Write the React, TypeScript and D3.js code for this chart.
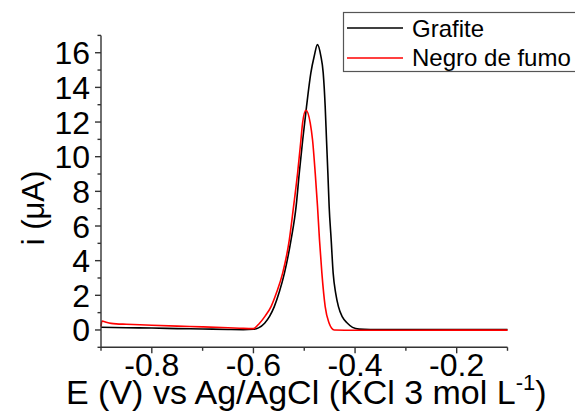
import React from "react";
import * as d3 from "d3";

// Differential pulse voltammograms: potential (V) and current (µA)
const grafiteE = [
  -0.9, -0.85, -0.8, -0.75, -0.7, -0.65, -0.62, -0.6, -0.59, -0.578, -0.568, -0.559, -0.549,
  -0.539, -0.526, -0.516, -0.5098, -0.503, -0.4955, -0.487, -0.4804, -0.474, -0.4673, -0.4627,
  -0.4588, -0.4562, -0.4535, -0.451, -0.447, -0.4431, -0.438, -0.4327, -0.425, -0.415, -0.405,
  -0.392, -0.37, -0.3, -0.2, -0.1,
];
const grafiteI = [
  0.16, 0.13, 0.11, 0.08, 0.06, 0.03, 0.02, 0.04, 0.12, 0.39, 0.8, 1.35, 2.2,
  3.28, 5.2, 7.13, 9.05, 10.98, 12.9, 14.84, 15.8, 16.47, 15.8, 14.84,
  12.9, 10.98, 9.05, 7.13, 5.2, 3.28, 2.1, 1.35, 0.75, 0.39, 0.15,
  0.05, 0.03, 0.02, 0.02, 0.02,
];

const negroE = [
  -0.9, -0.898, -0.89, -0.88, -0.87, -0.85, -0.8, -0.75, -0.7, -0.65, -0.62, -0.6, -0.588,
  -0.577, -0.5653, -0.554, -0.5425, -0.5294, -0.521, -0.5131, -0.5065, -0.5033, -0.4967,
  -0.4882, -0.4837, -0.4784, -0.4739, -0.47, -0.4653, -0.4588, -0.451, -0.446, -0.441,
  -0.4, -0.3, -0.2, -0.1,
];
const negroI = [
  0.2, 0.52, 0.45, 0.38, 0.35, 0.33, 0.27, 0.22, 0.18, 0.13, 0.09, 0.08, 0.39,
  0.8, 1.35, 2.2, 3.28, 5.2, 7.13, 9.05, 10.98, 11.94, 12.68,
  11.94, 10.98, 9.05, 7.13, 5.2, 3.28, 1.35, 0.39, 0.1, 0.0,
  -0.02, -0.02, -0.01, -0.01,
];

const xMajor = [-0.8, -0.6, -0.4, -0.2];
const xMinor = [-0.9, -0.7, -0.5, -0.3, -0.1];
const yMajor = [0, 2, 4, 6, 8, 10, 12, 14, 16];
const yMinor = [-1, 1, 3, 5, 7, 9, 11, 13, 15, 17];

const seriesNames = ["Grafite", "Negro de fumo"];
const seriesColors = ["#000000", "#ff0000"];

const W = 575;
const H = 417;
const FONT = "'Liberation Sans', Arial, Helvetica, sans-serif";
const AXIS = "#333333";

export default function App() {
  const x = d3.scaleLinear().domain([-0.9, -0.1]).range([101, 507.5]);
  const y = d3.scaleLinear().domain([-1, 17]).range([347.3, 35.4]);

  const line = d3
    .line<[number, number]>()
    .x((d) => x(d[0]))
    .y((d) => y(d[1]))
    .curve(d3.curveMonotoneX);

  const series = [
    grafiteE.map((e, i) => [e, grafiteI[i]] as [number, number]),
    negroE.map((e, i) => [e, negroI[i]] as [number, number]),
  ];

  const fmt = (v: number) => (v < 0 ? "-" : "") + Math.abs(v).toFixed(1);
  const x0 = x(-0.9);
  const yBase = y(-1);

  return (
    <svg
      width={W}
      height={H}
      style={{ position: "absolute", left: 0, top: 0, background: "#fff" }}
      fontFamily={FONT}
    >
      {/* curves */}
      {series.map((s, k) => (
        <path key={k} d={line(s) || ""} fill="none" stroke={seriesColors[k]} strokeWidth={1.6} />
      ))}

      {/* y axis */}
      <line x1={x0} x2={x0} y1={yBase} y2={y(17)} stroke={AXIS} strokeWidth={1.4} />
      {yMajor.map((v) => (
        <g key={"ym" + v}>
          <line x1={x0 - 6} x2={x0} y1={y(v)} y2={y(v)} stroke={AXIS} strokeWidth={1.4} />
          <text x={90} y={y(v) + 11.5} textAnchor="end" fontSize={32} fill="#000">
            {v}
          </text>
        </g>
      ))}
      {yMinor.map((v) => (
        <line key={"yn" + v} x1={x0 - 3.5} x2={x0} y1={y(v)} y2={y(v)} stroke={AXIS} strokeWidth={1.4} />
      ))}

      {/* x axis */}
      <line x1={x0} x2={x(-0.1)} y1={yBase} y2={yBase} stroke={AXIS} strokeWidth={1.4} />
      {xMajor.map((v) => (
        <g key={"xm" + v}>
          <line x1={x(v)} x2={x(v)} y1={yBase} y2={yBase + 6} stroke={AXIS} strokeWidth={1.4} />
          <text x={x(v)} y={376} textAnchor="middle" fontSize={32} fill="#000">
            {fmt(v)}
          </text>
        </g>
      ))}
      {xMinor.map((v) => (
        <line key={"xn" + v} x1={x(v)} x2={x(v)} y1={yBase} y2={yBase + 3.5} stroke={AXIS} strokeWidth={1.4} />
      ))}

      {/* axis titles */}
      <text x={66} y={404} fontSize={34} fill="#000">
        E (V) vs Ag/AgCl (KCl 3 mol L
        <tspan fontSize={22} dy={-14}>-1</tspan>
        <tspan dy={14}>)</tspan>
      </text>
      <text transform="translate(44,208) rotate(-90)" textAnchor="middle" fontSize={31} fill="#000">
        i (μA)
      </text>

      {/* legend */}
      <rect x={343.5} y={12.5} width={240} height={59} fill="#fff" stroke="#555" strokeWidth={1.2} />
      {seriesNames.map((n, k) => (
        <g key={n}>
          <line x1={347} x2={403} y1={28 + 30 * k} y2={28 + 30 * k} stroke={seriesColors[k]} strokeWidth={1.6} />
          <text x={412} y={36.5 + 29 * k} fontSize={24} fill="#000">
            {n}
          </text>
        </g>
      ))}
    </svg>
  );
}
